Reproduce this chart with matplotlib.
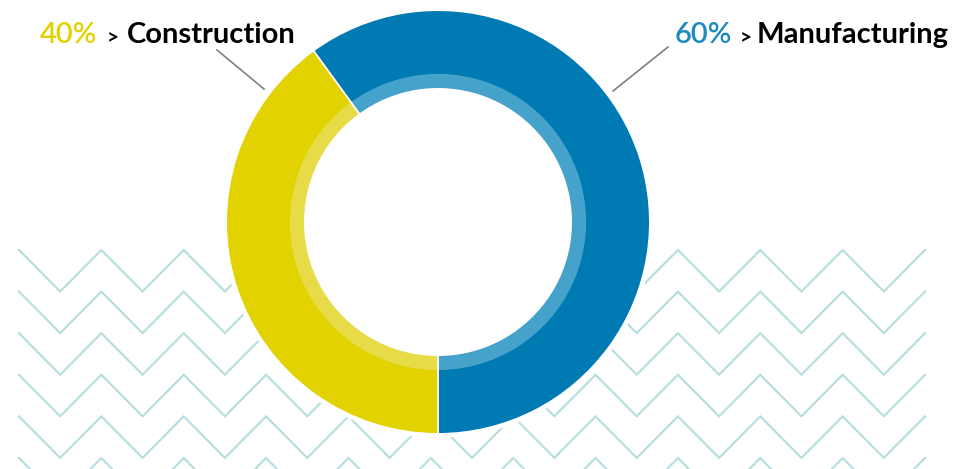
import numpy as np
import matplotlib
matplotlib.use("Agg")
import matplotlib.pyplot as plt
from matplotlib.patches import Circle

# ---- data ----
categories = ["Manufacturing", "Construction"]
values = [60, 40]
pct_labels = ["60%", "40%"]
main_colors = ["#007ab3", "#e2d200"]
band_colors = ["#45a2ca", "#e8db48"]
pct_colors = ["#1b8ac0", "#e2d200"]

W, H = 959, 469
fig = plt.figure(figsize=(W / 100, H / 100), dpi=100)
ax = fig.add_axes([0, 0, 1, 1])

def Y(py):
    return H - py

# ---- zigzag background ----
zig_color = "#b4dede"
x0, x1 = 19, 925
period = (x1 - x0) / 11
amp = 41.5
for k in range(6):
    peak = 250 + 41.6 * k
    xs = np.arange(x0, x1 + 0.1, period / 2)
    ys = np.array([peak if i % 2 == 0 else peak + amp for i in range(len(xs))])
    ax.plot(xs, [Y(v) for v in ys], color=zig_color, lw=1.5, zorder=1,
            solid_joinstyle="miter")

# ---- donut ----
cx, cy = 438, Y(222)
R_out, R_band, R_hole = 211, 148, 134
start = 270
ax.add_patch(Circle((cx, cy), R_out + 4, color="white", zorder=2))
w1, _ = ax.pie(values, colors=main_colors, startangle=start, counterclock=True,
               radius=R_out, center=(cx, cy), frame=True,
               wedgeprops=dict(width=R_out - R_band + 0.5, linewidth=0))
w2, _ = ax.pie(values, colors=band_colors, startangle=start, counterclock=True,
               radius=R_band, center=(cx, cy), frame=True,
               wedgeprops=dict(width=R_band - R_hole, linewidth=0))
for w in list(w1) + list(w2):
    w.set_zorder(3)
# white separators between slices
cum = np.concatenate([[0], np.cumsum(values)])[:-1]
for c in cum:
    a = np.deg2rad(start + 360 * c / sum(values))
    ax.plot([cx + (R_hole - 1) * np.cos(a), cx + (R_out + 1) * np.cos(a)],
            [cy + (R_hole - 1) * np.sin(a), cy + (R_out + 1) * np.sin(a)],
            color="white", lw=1.3, zorder=4, solid_capstyle="butt")

ax.set_xlim(0, W)
ax.set_ylim(0, H)
ax.set_aspect("equal")
ax.axis("off")

# ---- labels ----
font = "Lato"
fs = 21
base = Y(43)
# Construction (left)
ax.text(40, base, pct_labels[1], color=pct_colors[1], fontsize=fs, family=font,
        fontweight="semibold", va="baseline", ha="left", zorder=5)
ax.text(107, base, ">", color="black", fontsize=15, family=font,
        fontweight="bold", va="baseline", ha="left", zorder=5)
ax.text(127, base, categories[1], color="black", fontsize=fs, family=font,
        fontweight="bold", va="baseline", ha="left", zorder=5)
ax.plot([217, 264], [Y(50), Y(89)], color="#808080", lw=1.2, zorder=5)
# Manufacturing (right)
ax.text(675, base, pct_labels[0], color=pct_colors[0], fontsize=fs, family=font,
        fontweight="semibold", va="baseline", ha="left", zorder=5)
ax.text(740, base, ">", color="black", fontsize=15, family=font,
        fontweight="bold", va="baseline", ha="left", zorder=5)
ax.text(757, base, categories[0], color="black", fontsize=fs, family=font,
        fontweight="bold", va="baseline", ha="left", zorder=5)
ax.plot([668, 613], [Y(47), Y(91)], color="#808080", lw=1.2, zorder=5)

fig.savefig("out.png", dpi=100, facecolor="white")
